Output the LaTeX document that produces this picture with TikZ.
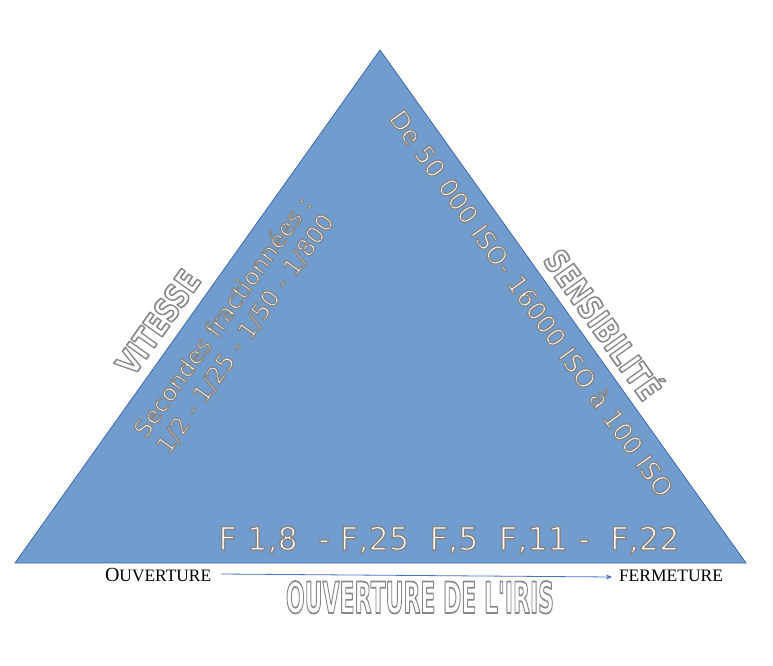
\documentclass[tikz,border=0pt]{standalone}
\usepackage{fontspec}
\usetikzlibrary{arrows.meta}
\newfontfamily\dvs{DejaVu Sans}
\newfontfamily\lser{Liberation Serif}
\definecolor{trifill}{RGB}{112,156,206}
\definecolor{tridraw}{RGB}{65,105,175}
\definecolor{arrowblue}{RGB}{68,114,196}
% white text with a grey outline (text rendering mode 2: fill, then stroke)
\newcommand{\otxt}[2][1.35]{\textcolor{white}{\special{pdf:literal direct 0.53 G 1 j #1 w 2 Tr}#2\special{pdf:literal direct 0 Tr 0 j}}}
\tikzset{
  lbl/.style={inner sep=0pt, outer sep=0pt},
  sidetitle/.style={lbl, font=\dvs\bfseries\fontsize{32}{36}\selectfont},
  bodytxt/.style={lbl, font=\dvs\fontsize{24}{28}\selectfont, align=left},
  serif/.style={lbl, text=black, anchor=base west},
}
\begin{document}
\begin{tikzpicture}[x=1pt,y=-1pt]
\useasboundingbox (0,0) rectangle (773,666);
\fill[white] (0,0) rectangle (773,666);
% triangle
\coordinate (apex) at (380,50);
\coordinate (bl) at (15,563);
\coordinate (br) at (746,563);
\filldraw[fill=trifill, draw=tridraw, line width=0.8pt] (apex) -- (br) -- (bl) -- cycle;
% side titles
\node[sidetitle, rotate=54.6] (vitesse) at (158,322) {\otxt[1.6]{\scalebox{0.81}[1.03]{VITESSE}}};
\node[sidetitle, rotate=-54.6] (sensib) at (605,323) {\otxt[1.6]{\scalebox{0.8}[1.03]{SENSIBILITÉ}}};
% inside texts
\node[bodytxt, rotate=54.6] (secondes) at (234,325) {\otxt{Secondes fractionnées :}\\\otxt{1/2 - 1/25 - 1/50 - 1/800}};
\node[lbl, font=\dvs\fontsize{25.5}{30}\selectfont, rotate=-54.5] (iso) at (532,303) {\otxt{De 50 000 ISO- 16000 ISO à 100 ISO}};
\node[lbl, font=\dvs\fontsize{32}{36}\selectfont, anchor=base] (fnum) at (449,550) {\otxt[1.5]{F 1,8\ \ - F,25\ \ F,5\ \ F,11 -\ \ F,22}};
% bottom
\node[serif] (ouv) at (105,581) {\lser\fontsize{20}{22}\selectfont O\fontsize{17.4}{22}\selectfont UVERTURE};
\node[serif] (ferm) at (619,581) {\lser\fontsize{17.5}{22}\selectfont FERMETURE};
\coordinate (ar1) at (221,574);
\coordinate (ar2) at (612,577);
\draw[arrowblue, line width=0.8pt, -{Stealth[length=6pt,width=5pt]}] (ar1) -- (ar2);
\node[lbl, font=\dvs\bfseries\fontsize{40}{44}\selectfont, anchor=base] (iris) at (420,613) {\otxt[1.6]{\resizebox{268pt}{32pt}{OUVERTURE DE L'IRIS}}};
\end{tikzpicture}
\end{document}
